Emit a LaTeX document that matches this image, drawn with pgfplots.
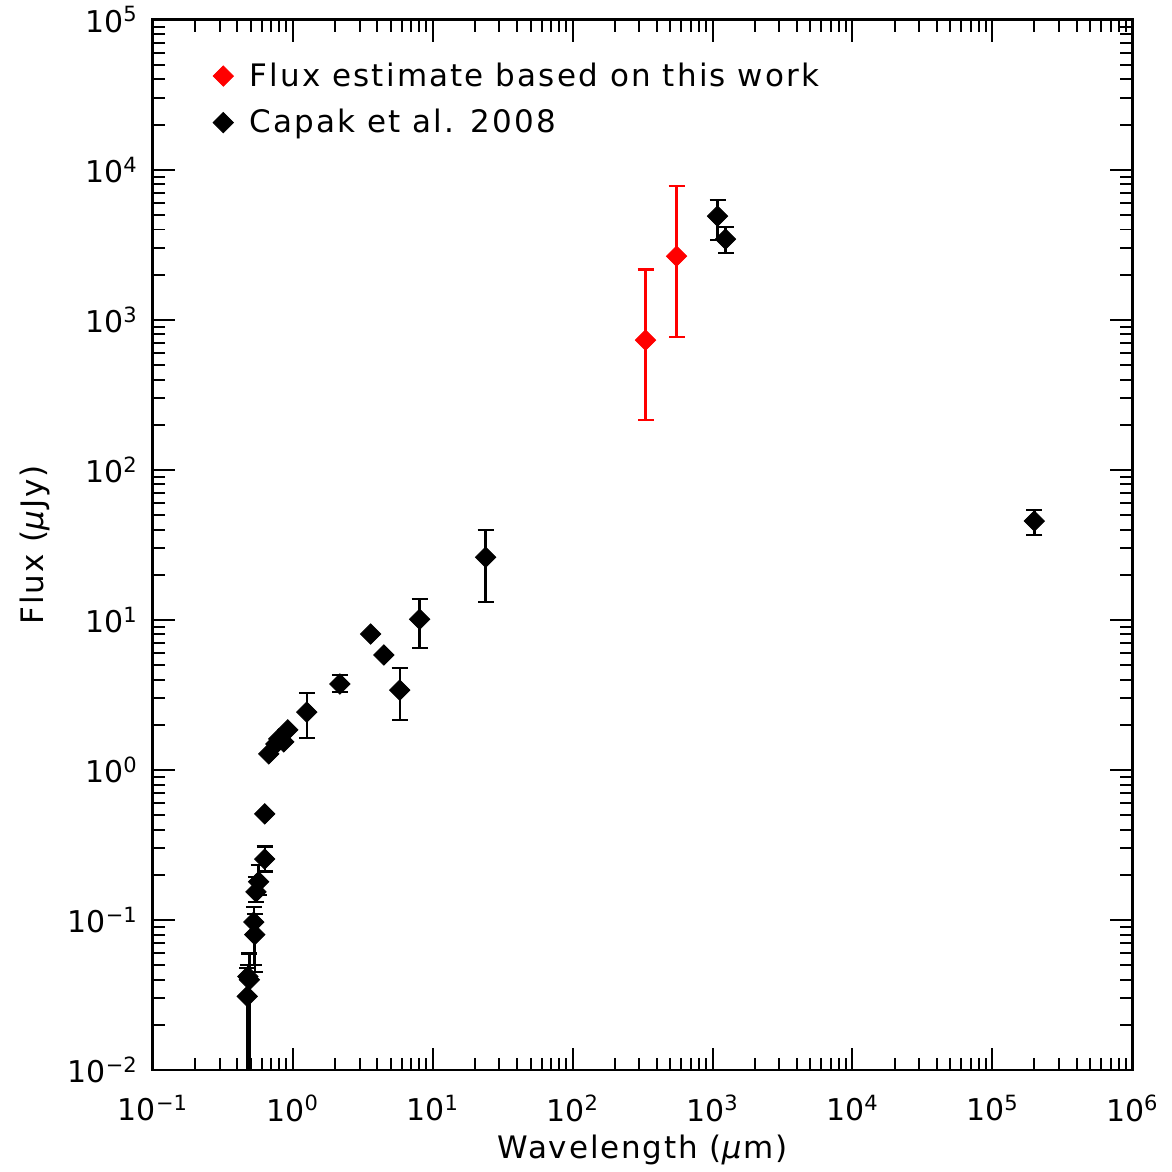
\documentclass[border=0pt]{standalone}
\usepackage{fontspec}
\setmainfont{DejaVu Sans}
\newfontfamily\spaced{DejaVu Sans}[LetterSpace=6]
\newfontfamily\spacedl{DejaVu Sans}[LetterSpace=7]
\usepackage{pgfplots}
\usepackage{pgfplotstable}
\pgfplotsset{compat=1.18}
\pgfplotstableread{
x y ep em
332 733 1427 518
553 2655 5115 1890
}\redtab
\pgfplotstableread{
x y ep em
0.63 0.255 0.055 0.045
0.57 0.18 0.053 0.033
0.545 0.154 0.04 0.022
0.526 0.097 0.025 0.047
0.535 0.08 0.03 0.035
0.477 0.042 0.008 0.0419
0.472 0.031 0.017 0.0309
0.49 0.04 0.02 0.0399
1.26 2.43 0.83 0.80
2.17 3.74 0.56 0.44
5.81 3.41 1.36 1.26
8.07 10.1 3.7 3.6
23.9 26.2 13.6 13.0
1086 4910 1390 1510
1238 3450 720 650
199500 45.6 8.5 8.9
}\blackerr
\pgfplotstableread{
x y
0.63 0.51
0.674 1.28
0.757 1.49
0.794 1.61
0.862 1.54
0.921 1.85
3.6 8.05
4.47 5.84
}\blacknoerr
\newcommand{\tl}[1]{10\textsuperscript{#1}}
\begin{document}
\begin{tikzpicture}
\begin{axis}[
 scale only axis, width=490pt, height=525.5pt,
 xmode=log, ymode=log,
 xmin=0.1, xmax=1e6, ymin=0.01, ymax=1e5,
 xtick={0.1,1,10,100,1000,10000,100000,1000000},
 xticklabels={\tl{−1},\tl{0},\tl{1},\tl{2},\tl{3},\tl{4},\tl{5},\tl{6}},
 ytick={0.01,0.1,1,10,100,1000,10000,100000},
 yticklabels={\tl{−2},\tl{−1},\tl{0},\tl{1},\tl{2},\tl{3},\tl{4},\tl{5}},
 tick align=inside, major tick length=11pt, minor tick length=6pt,
 tick style={black, line width=1pt},
 axis line style={line width=1.4pt},
 xlabel={Wavelength (\textit{μ}m)}, ylabel={Flux (\textit{μ}Jy)},
 label style={font=\spaced\fontsize{15.5}{18}\selectfont},
 tick label style={font=\fontsize{15}{18}\selectfont},
 xticklabel shift=9pt,
 yticklabel shift=4pt,
 xlabel style={yshift=0pt},
 ylabel style={yshift=2pt},
 legend style={draw=none, fill=none, at={(0.055,0.967)}, anchor=north west,
   font=\spacedl\fontsize{15.5}{18}\selectfont, row sep=6pt, column sep=6pt},
 legend cell align=left,
 error bars/error bar style={line width=1.2pt},
 error bars/error mark options={rotate=90, mark size=4pt, line width=1.2pt},
]
\coordinate (SW) at (rel axis cs:0,0);
\coordinate (NE) at (rel axis cs:1,1);
\addplot[only marks, red, mark=square*, mark size=3.6pt, mark options={rotate=45},
  error bars/.cd, y dir=both, y explicit]
  table[x=x, y=y, y error plus=ep, y error minus=em]{\redtab};
\addlegendentry{Flux estimate based on this work}
\addplot[only marks, black, mark=square*, mark size=3.6pt, mark options={rotate=45},
  error bars/.cd, y dir=both, y explicit]
  table[x=x, y=y, y error plus=ep, y error minus=em]{\blackerr};
\addlegendentry{Capak et al. 2008}
\addplot[only marks, black, mark=square*, mark size=3.6pt, mark options={rotate=45}, forget plot]
  table[x=x, y=y]{\blacknoerr};
\end{axis}
\path (SW) ++(-76.5pt,-51pt);
\path (NE) ++(19.5pt,8.5pt);
\end{tikzpicture}
\end{document}
